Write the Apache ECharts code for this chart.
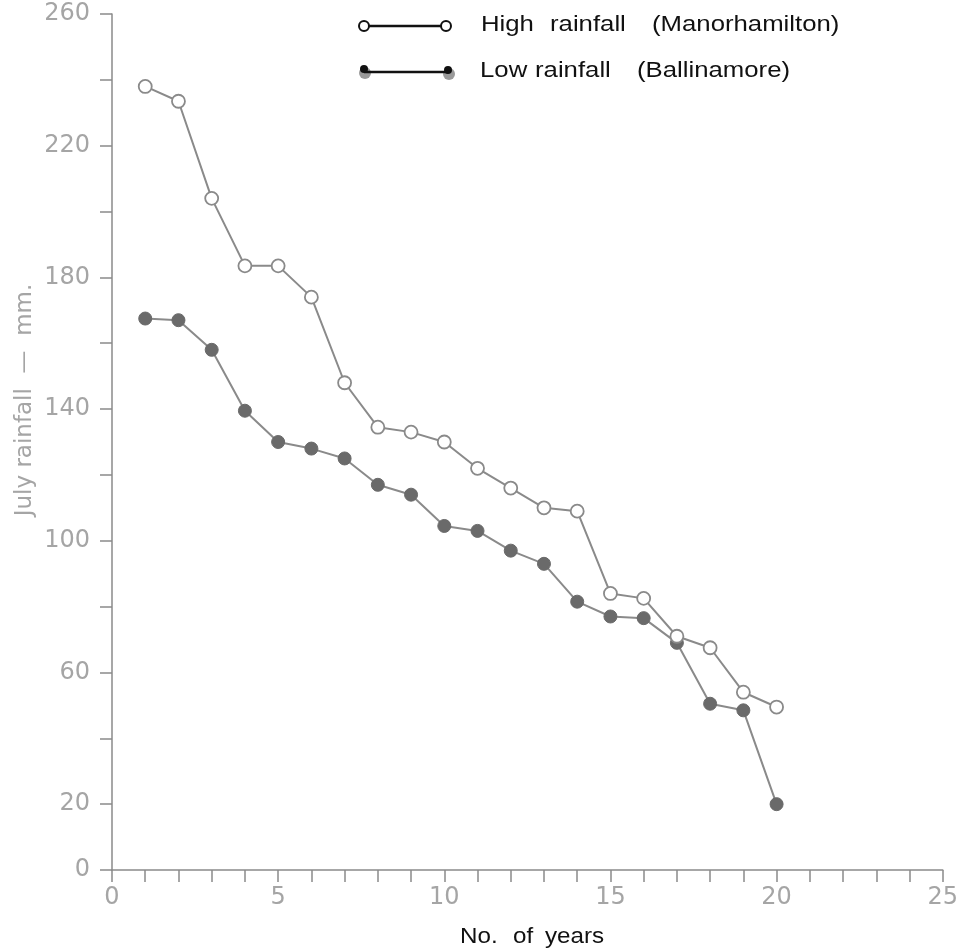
<!DOCTYPE html>
<html>
<head>
<meta charset="utf-8">
<script src="https://cdn.jsdelivr.net/npm/echarts@6/dist/echarts.min.js"></script>
<style>
  html,body{margin:0;padding:0;background:#fff;}
  #chart{width:961px;height:948px;}
</style>
</head>
<body>
<div id="chart"></div>
<script>
// values
var years=[1,2,3,4,5,6,7,8,9,10,11,12,13,14,15,16,17,18,19,20];
var highRain=[238,233.5,204,183.5,183.5,174,148,134.5,133,130,122,116,110,109,84,82.5,71,67.5,54,49.5];
var lowRain=[167.5,167,158,139.5,130,128,125,117,114,104.5,103,97,93,81.5,77,76.5,69,50.5,48.5,20];
var yLabels=[0,20,60,100,140,180,220,260];

var grey='#8a8a8a';
var labelGrey='#a5a5a5';

var chart=echarts.init(document.getElementById('chart'));

function pairs(ys){
    return years.map(function(x,i){return [x,ys[i]];});
}

// one word of printed text, stretched a little like the scan
function word(str,x,y,size,sx){
    return {
        type:'text',x:x,y:y,scaleX:sx,
        style:{text:str,fill:'#111',font:size+'px "Liberation Sans"',verticalAlign:'middle'},
    };
}

var option={
    animation:false,
    backgroundColor:'#fff',
    grid:{left:112,right:9,top:14,bottom:78},
    xAxis:{
        type:'value',
        min:0,
        max:25,
        interval:5,
        axisLine:{lineStyle:{color:grey,width:1.5}},
        axisTick:{length:12,lineStyle:{color:grey,width:1.5}},
        minorTick:{show:true,splitNumber:5,length:12,lineStyle:{color:grey,width:1.5}},
        splitLine:{show:false},
        axisLabel:{color:labelGrey,fontSize:24,fontFamily:'DejaVu Sans',margin:16},
    },
    yAxis:{
        type:'value',
        min:0,
        max:260,
        interval:20,
        axisLine:{show:true,lineStyle:{color:grey,width:1.5}},
        axisTick:{show:true,length:12,lineStyle:{color:grey,width:1.5}},
        splitLine:{show:false},
        axisLabel:{
            color:labelGrey,
            fontSize:24,
            fontFamily:'DejaVu Sans',
            margin:22,
            formatter:function(v){
                return yLabels.indexOf(v)>=0?String(v):'';
            },
        },
    },
    graphic:[
        // y axis title
        {
            type:'text',
            x:25,
            y:400,
            rotation:Math.PI/2,
            style:{
                text:'July rainfall  —  mm.',
                fill:labelGrey,
                font:'23px "DejaVu Sans"',
                align:'center',
                verticalAlign:'middle',
            },
        },
        // x axis title
        word('No.',460,937,22,1.1),
        word('of',513,937,22,1.1),
        word('years',545,937,22,1.1),
        // legend row 1
        {type:'line',shape:{x1:369,y1:26,x2:441,y2:26},style:{stroke:'#111',lineWidth:2.5}},
        {type:'circle',shape:{cx:364,cy:26,r:5},style:{fill:'#fff',stroke:'#111',lineWidth:2}},
        {type:'circle',shape:{cx:446,cy:26,r:5},style:{fill:'#fff',stroke:'#111',lineWidth:2}},
        word('High',481,25,22,1.17),
        word('rainfall',550,25,22,1.17),
        word('(Manorhamilton)',652,25,22,1.17),
        // legend row 2
        {type:'circle',shape:{cx:365,cy:73,r:6},style:{fill:'#9a9a9a'}},
        {type:'circle',shape:{cx:449,cy:74,r:6},style:{fill:'#9a9a9a'}},
        {type:'line',shape:{x1:364,y1:72,x2:448,y2:72},style:{stroke:'#111',lineWidth:2.5}},
        {type:'circle',shape:{cx:364,cy:69,r:4},style:{fill:'#111'}},
        {type:'circle',shape:{cx:448,cy:70,r:4},style:{fill:'#111'}},
        word('Low',480,71,22,1.17),
        word('rainfall',535,71,22,1.17),
        word('(Ballinamore)',637,71,22,1.17),
    ],
    series:[
        {
            name:'High rainfall (Manorhamilton)',
            type:'line',
            data:pairs(highRain),
            symbol:'circle',
            symbolSize:13,
            lineStyle:{color:grey,width:2},
            itemStyle:{color:'#fff',borderColor:grey,borderWidth:1.8},
            z:3,
        },
        {
            name:'Low rainfall (Ballinamore)',
            type:'line',
            data:pairs(lowRain),
            symbol:'circle',
            symbolSize:13,
            lineStyle:{color:grey,width:2},
            itemStyle:{color:'#6a6a6a',borderColor:'#6a6a6a',borderWidth:1},
            z:2,
        },
    ],
};

chart.setOption(option);
</script>
</body>
</html>
